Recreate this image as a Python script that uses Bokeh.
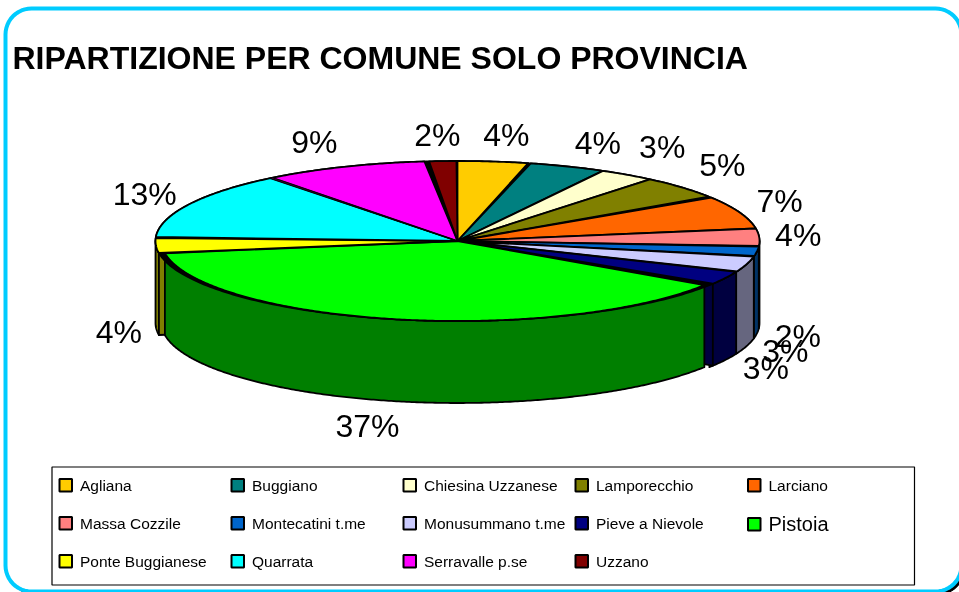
import math
from bokeh.plotting import figure
from bokeh.core.properties import value
from bokeh.embed import file_html
from bokeh.resources import INLINE

TITLE = "RIPARTIZIONE PER COMUNE SOLO PROVINCIA"
comuni = ["Agliana", "Buggiano", "Chiesina Uzzanese", "Lamporecchio", "Larciano",
          "Massa Cozzile", "Montecatini t.me", "Monusummano t.me", "Pieve a Nievole", "Pistoia",
          "Ponte Buggianese", "Quarrata", "Serravalle p.se", "Uzzano"]
# share of the rim each slice takes
quote = [3.9, 4.1, 3.0, 4.9, 6.6, 3.6, 2.0, 3.2, 3.0, 38.3, 3.2, 13.7, 9.0, 1.5]
# printed data labels
etichette = ["4%", "4%", "3%", "5%", "7%", "4%", "2%", "3%", "3%", "37%", "4%", "13%", "9%", "2%"]
colori = ["#FFCC00", "#008080", "#FFFFCC", "#808000", "#FF6600",
          "#FF8080", "#0066CC", "#CCCCFF", "#000080", "#00FF00",
          "#FFFF00", "#00FFFF", "#FF00FF", "#800000"]

# ---- styling / geometry
W, H = 959, 592
CX, CY, RX, RY, DEPTH = 457.0, 240.5, 302.0, 80.0, 82.0
FONT = value("Liberation Sans")
gap_dopo = [0.5, 0.1, 0.1, 1.0, 0.1, 0.4, 0.4, 0.4, 1.2, 0.2, 0.8, 0.5, 0.9, 0.2]
scala = [1, 1, 1, 1, 1, 1, 1, 1, 1, 0.98, 1, 1, 1, 1]
lab_off = [(12, -27), (30, -23.5), (35, -28), (39, -23), (40, -11), (39, -2.5), (41, 84),
           (39, 87), (42, 89.5), (-25, 107), (-37, 87), (-45, -10), (-32, -25), (-6, -26)]


def scuro(c):
    return "#%02X%02X%02X" % tuple(int(c[i:i + 2], 16) // 2 for i in (1, 3, 5))


def rim(t, s=1.0):
    a = math.radians(t)
    return CX + RX * s * math.sin(a), CY - RY * math.cos(a)


def arco(t0, t1, s=1.0, n=None):
    n = n or max(2, int(abs(t1 - t0) * 2))
    return [rim(t0 + (t1 - t0) * i / (n - 1), s) for i in range(n)]


def rrect(x0, y0, x1, y1, r):
    pts = []
    for cx, cy, a0 in ((x1 - r, y0 + r, -90), (x1 - r, y1 - r, 0), (x0 + r, y1 - r, 90), (x0 + r, y0 + r, 180)):
        for i in range(13):
            a = math.radians(a0 + 90 * i / 12)
            pts.append((cx + r * math.cos(a), cy + r * math.sin(a)))
    return pts


p = figure(width=W, height=H, x_range=(0, W), y_range=(H, 0), output_backend="svg",
           toolbar_location=None, min_border=0, outline_line_color=None,
           styles={"position": "fixed", "left": "0px", "top": "0px"})
p.axis.visible = False
p.xgrid.visible = False
p.ygrid.visible = False
p.background_fill_color = "white"
p.border_fill_color = "white"


def poly(pts, fill, line="black", lw=1.8):
    p.patch([a for a, _ in pts], [b for _, b in pts], fill_color=fill,
            line_color=line, line_width=lw, line_join="round")


# frame and its shadow
poly(rrect(8, 11, 964, 594, 26), "black", "black", 1)
poly(rrect(5, 8, 961, 591, 26), "white", "#00CCFF", 4)

# slice limits
tot = sum(quote)
lim = []
c = 0.0
for q in quote:
    lim.append((c / tot * 360, (c + q) / tot * 360))
    c += q

# side walls, right side first, left side next, the big front slice last
ordine = [i for i in range(len(quote)) if i != 9 and lim[i][0] < 270 and lim[i][1] > 90] + [9]
for i in ordine:
    t0, t1 = max(lim[i][0], 90), min(lim[i][1], 270)
    top = arco(t0, t1, scala[i])
    bot = [(x, y + DEPTH) for x, y in top][::-1]
    poly(top + bot, scuro(colori[i]))
    if i == 8:  # cut face of the slice next to the big one
        a = rim(lim[i][1] - gap_dopo[i])
        poly([a, (a[0], a[1] + DEPTH), (CX, CY + DEPTH), (CX, CY)], scuro(colori[i]))
    if i == 10:
        a = rim(lim[i][0])
        poly([a, (a[0], a[1] + DEPTH), (CX, CY + DEPTH), (CX, CY)], scuro(colori[i]))

# black under the top surface, then the slices
poly(arco(0, 360, n=361), "black")
for i, (t0, t1) in enumerate(lim):
    arc = arco(t0, t1 - gap_dopo[i], scala[i])
    poly([(CX, CY)] + arc, colori[i])
# thin purple cut of Serravalle
t = lim[12][0]
poly([(CX, CY), rim(t - gap_dopo[11]), rim(t)], scuro(colori[12]), "black", 0.8)

# data labels
lx, ly = [], []
for (t0, t1), (dx, dy) in zip(lim, lab_off):
    x, y = rim((t0 + t1) / 2)
    lx.append(x + dx)
    ly.append(y + dy)
p.text(lx, ly, text=etichette, text_font=FONT, text_font_size="32px", text_color="black",
       text_align="center", text_baseline="middle")

# title
p.text([12], [57], text=[TITLE], text_font=FONT, text_font_size="32px", text_font_style="bold",
       text_color="black", text_align="left", text_baseline="middle")

# legend
p.quad(left=[51.5], right=[914], top=[466.5], bottom=[584.5], fill_color="white", line_color="black", line_width=1.2)
COL = [59, 231, 403, 575, 747.5]
ROW = [478.5, 516.5, 554.5]
for i, nome in enumerate(comuni):
    r, k = divmod(i, 5)
    x, y = COL[k], ROW[r]
    big = nome == "Pistoia"
    yy = y + 1 if big else y
    p.quad(left=[x], right=[x + 12.5], top=[yy], bottom=[yy + 12.5], fill_color=colori[i],
           line_color="black", line_width=2)
    p.text([x + 20.5], [y + 6.5], text=[nome], text_font=FONT, text_font_size="20px" if big else "15.5px",
           text_color="black", text_align="left", text_baseline="middle")

open("out.html", "w").write(file_html(p, INLINE))
